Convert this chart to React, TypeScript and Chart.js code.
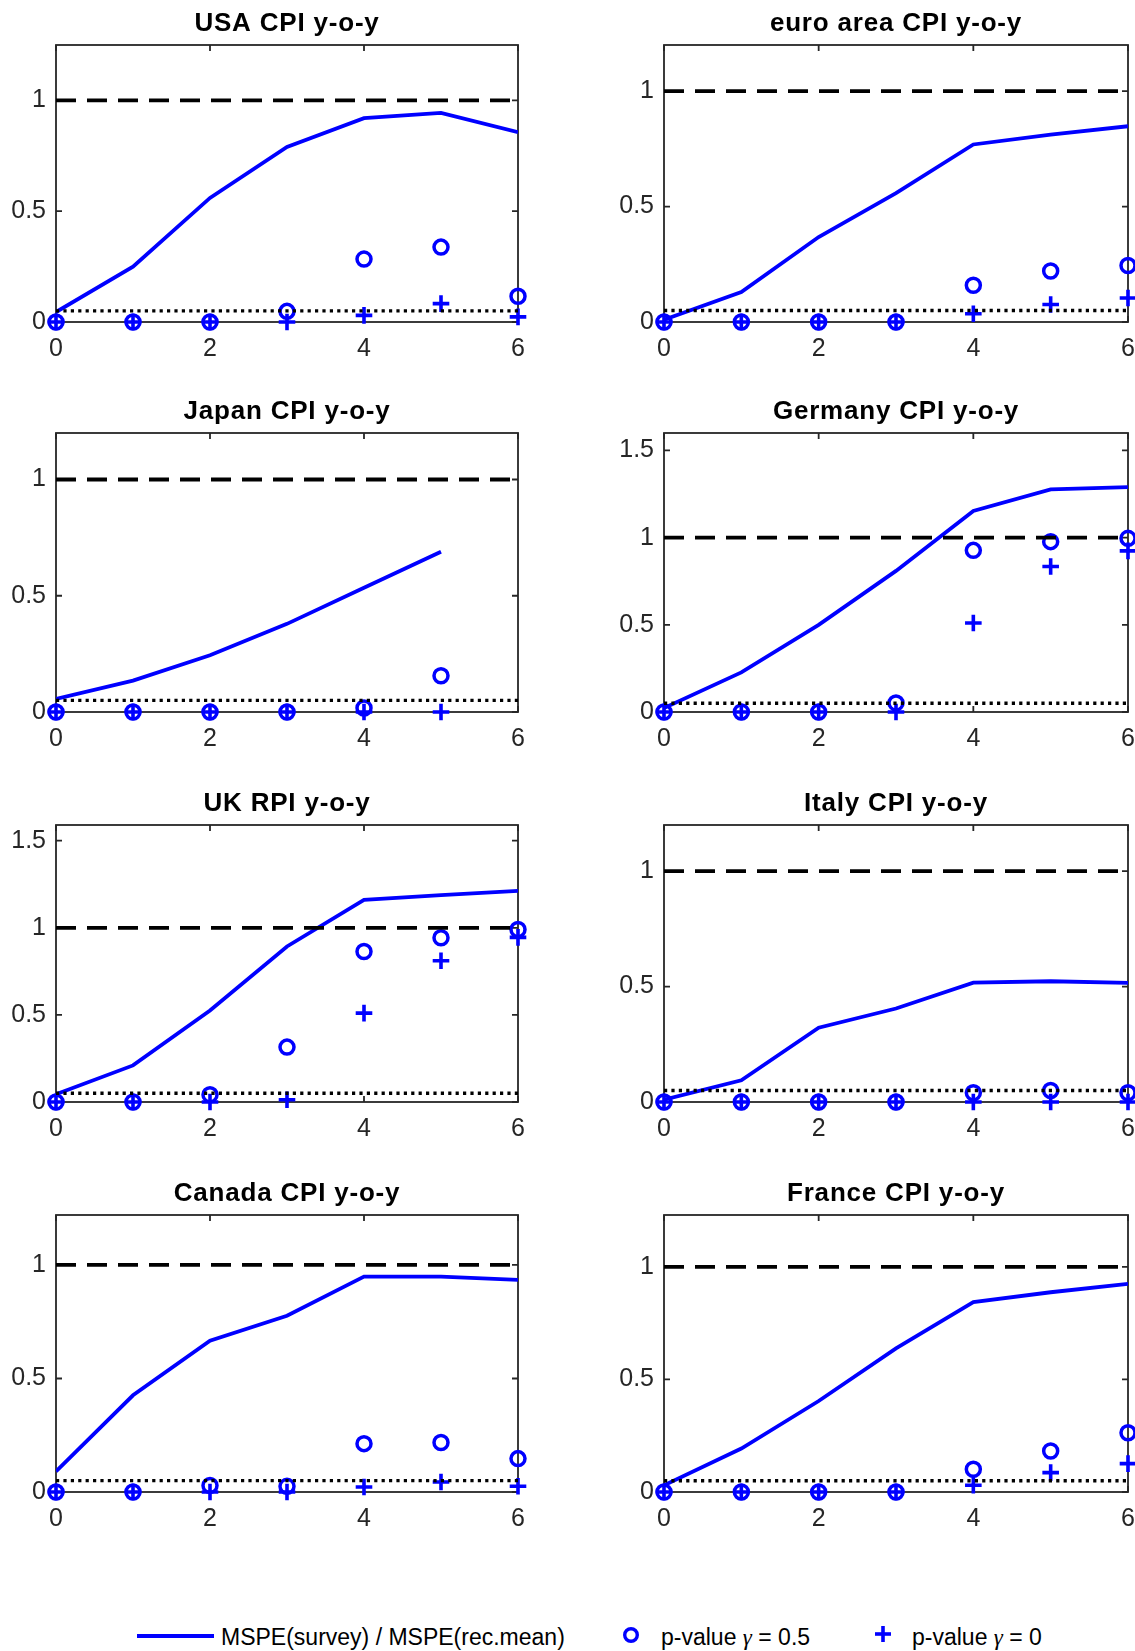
import React, { useEffect, useRef } from "react";
import { Chart, registerables } from "chart.js";

Chart.register(...registerables);

// ---------- data ----------
const horizons = [0, 1, 2, 3, 4, 5, 6];
const xTickValues = [0, 2, 4, 6];
const refLevel = 1;
const pThreshold = 0.05;

const titles = [
  "USA CPI y-o-y",
  "euro area CPI y-o-y",
  "Japan CPI y-o-y",
  "Germany CPI y-o-y",
  "UK RPI y-o-y",
  "Italy CPI y-o-y",
  "Canada CPI y-o-y",
  "France CPI y-o-y",
];
const yMaxValues = [1.25, 1.2, 1.2, 1.6, 1.59, 1.2, 1.22, 1.23];
const yTicksSmall = [0, 0.5, 1];
const yTicksLarge = [0, 0.5, 1, 1.5];

const usaRatio = [0.045, 0.25, 0.56, 0.79, 0.92, 0.944, 0.857];
const usaP05 = [0, 0, 0, 0.048, 0.284, 0.338, 0.116];
const usaP0 = [0, 0, 0, 0, 0.03, 0.083, 0.023];

const euroRatio = [0.01, 0.13, 0.368, 0.558, 0.769, 0.812, 0.848];
const euroP05 = [0, 0, 0, 0, 0.159, 0.221, 0.245];
const euroP0 = [0, 0, 0, 0, 0.036, 0.076, 0.104];

const japanRatio = [0.056, 0.135, 0.244, 0.379, 0.534, 0.689, null];
const japanP05 = [0, 0, 0, 0, 0.017, 0.156, null];
const japanP0 = [0, 0, 0, 0, 0, 0, null];

const germanyRatio = [0.023, 0.227, 0.5, 0.809, 1.153, 1.277, 1.29];
const germanyP05 = [0, 0, 0, 0.052, 0.927, 0.977, 0.996];
const germanyP0 = [0, 0, 0, 0, 0.51, 0.834, 0.924];

const ukRatio = [0.044, 0.21, 0.525, 0.893, 1.16, 1.187, 1.212];
const ukP05 = [0, 0, 0.042, 0.315, 0.864, 0.943, 0.99];
const ukP0 = [0, 0, 0, 0.013, 0.51, 0.811, 0.945];

const italyRatio = [0.01, 0.094, 0.322, 0.405, 0.517, 0.523, 0.516];
const italyP05 = [0, 0, 0, 0, 0.04, 0.05, 0.04];
const italyP0 = [0, 0, 0, 0, 0, 0, 0];

const canadaRatio = [0.091, 0.426, 0.666, 0.776, 0.949, 0.949, 0.934];
const canadaP05 = [0, 0, 0.029, 0.025, 0.213, 0.218, 0.147];
const canadaP0 = [0, 0, 0, 0, 0.022, 0.044, 0.025];

const franceRatio = [0.03, 0.193, 0.404, 0.638, 0.843, 0.887, 0.924];
const franceP05 = [0, 0, 0, 0, 0.101, 0.182, 0.263];
const franceP0 = [0, 0, 0, 0, 0.03, 0.086, 0.126];

const ratioSeries = [usaRatio, euroRatio, japanRatio, germanyRatio, ukRatio, italyRatio, canadaRatio, franceRatio];
const p05Series = [usaP05, euroP05, japanP05, germanyP05, ukP05, italyP05, canadaP05, franceP05];
const p0Series = [usaP0, euroP0, japanP0, germanyP0, ukP0, italyP0, canadaP0, franceP0];

// ---------- layout ----------
const colLeft = [56, 664];
const colRight = [518, 1128];
const rowTop = [45, 433, 825, 1215];
const rowBottom = [322, 712, 1102, 1492];
const AXIS_W = 70;
const AXIS_H = 48;
const PAD_T = 45;
const PAD_R = 30;

const FONT = '"Liberation Sans", Arial, Helvetica, sans-serif';
const BLUE = "#0000ff";
const AXIS_COLOR = "#262626";

const toPoints = (vals: (number | null)[]) =>
  horizons
    .map((h, i) => ({ x: h, y: vals[i] }))
    .filter((p) => p.y !== null && p.y !== undefined);

const framePlugin = {
  id: "frame",
  beforeDatasetsDraw(chart: any) {
    const { ctx, chartArea: a, scales } = chart;
    ctx.save();
    ctx.strokeStyle = AXIS_COLOR;
    ctx.lineWidth = 1.8;
    ctx.strokeRect(a.left, a.top, a.right - a.left, a.bottom - a.top);
    const tl = 6;
    ctx.beginPath();
    for (const v of xTickValues) {
      const x = scales.x.getPixelForValue(v);
      ctx.moveTo(x, a.bottom);
      ctx.lineTo(x, a.bottom - tl);
      ctx.moveTo(x, a.top);
      ctx.lineTo(x, a.top + tl);
    }
    for (const t of scales.y.ticks) {
      const y = scales.y.getPixelForValue(t.value);
      ctx.moveTo(a.left, y);
      ctx.lineTo(a.left + tl, y);
      ctx.moveTo(a.right, y);
      ctx.lineTo(a.right - tl, y);
    }
    ctx.stroke();
    ctx.restore();
  },
  afterDraw(chart: any, _args: any, opts: any) {
    const { ctx, chartArea: a } = chart;
    ctx.save();
    ctx.fillStyle = "#000";
    ctx.font = `bold 26px ${FONT}`;
    try {
      (ctx as any).letterSpacing = "0.8px";
    } catch (e) {}
    ctx.textAlign = "center";
    ctx.textBaseline = "alphabetic";
    ctx.fillText(opts.title, (a.left + a.right) / 2, a.top - 14);
    ctx.restore();
  },
};

function Panel({ idx }: { idx: number }) {
  const ref = useRef<HTMLCanvasElement>(null);
  const col = idx % 2;
  const row = Math.floor(idx / 2);
  const L = colLeft[col];
  const R = colRight[col];
  const T = rowTop[row];
  const B = rowBottom[row];
  const W = R - L + AXIS_W + PAD_R;
  const H = B - T + PAD_T + AXIS_H;

  useEffect(() => {
    const yMax = yMaxValues[idx];
    const yTicks = yMax >= 1.5 ? yTicksLarge : yTicksSmall;
    const chart = new Chart(ref.current as HTMLCanvasElement, {
      type: "line",
      data: {
        datasets: [
          {
            label: "ref",
            data: [
              { x: horizons[0], y: refLevel },
              { x: horizons[horizons.length - 1], y: refLevel },
            ],
            borderColor: "#000",
            borderWidth: 3.8,
            borderDash: [20, 11],
            pointRadius: 0,
            order: 0,
          },
          {
            label: "thr",
            data: [
              { x: horizons[0], y: pThreshold },
              { x: horizons[horizons.length - 1], y: pThreshold },
            ],
            borderColor: "#000",
            borderWidth: 3.4,
            borderDash: [3.2, 4.2],
            pointRadius: 0,
            order: 1,
          },
          {
            label: "p-value gamma = 0",
            data: toPoints(p0Series[idx]),
            showLine: false,
            pointStyle: "cross",
            pointRadius: 8.3,
            pointBorderWidth: 3.6,
            pointBorderColor: BLUE,
            borderColor: BLUE,
            clip: false as any,
            order: 2,
          },
          {
            label: "p-value gamma = 0.5",
            data: toPoints(p05Series[idx]),
            showLine: false,
            pointStyle: "circle",
            pointRadius: 7,
            pointBorderWidth: 3.5,
            pointBorderColor: BLUE,
            pointBackgroundColor: "rgba(0,0,0,0)",
            borderColor: BLUE,
            clip: false as any,
            order: 3,
          },
          {
            label: "MSPE ratio",
            data: toPoints(ratioSeries[idx]),
            borderColor: BLUE,
            borderWidth: 3.8,
            pointRadius: 0,
            tension: 0,
            order: 4,
          },
        ],
      },
      options: {
        responsive: false,
        animation: false,
        events: [],
        layout: { padding: { left: 0, right: PAD_R, top: PAD_T, bottom: 0 } },
        plugins: {
          legend: { display: false },
          tooltip: { enabled: false },
          title: { display: false },
          frame: { title: titles[idx] },
        } as any,
        scales: {
          x: {
            type: "linear",
            min: 0,
            max: 6,
            afterBuildTicks: (s: any) => {
              s.ticks = xTickValues.map((v) => ({ value: v }));
            },
            afterFit: (s: any) => {
              s.height = AXIS_H;
            },
            ticks: {
              color: AXIS_COLOR,
              font: { family: FONT, size: 25 },
              padding: 12,
              maxRotation: 0,
              autoSkip: false,
              callback: (v: any) => String(v),
            },
            grid: { display: false, drawTicks: false },
            border: { display: false },
          },
          y: {
            type: "linear",
            min: 0,
            max: yMax,
            afterBuildTicks: (s: any) => {
              s.ticks = yTicks.map((v) => ({ value: v }));
            },
            afterFit: (s: any) => {
              s.width = AXIS_W;
            },
            ticks: {
              color: AXIS_COLOR,
              font: { family: FONT, size: 25 },
              padding: 10,
              autoSkip: false,
              callback: (v: any) => String(v),
            },
            grid: { display: false, drawTicks: false },
            border: { display: false },
          },
        },
      },
      plugins: [framePlugin as any],
    });
    return () => chart.destroy();
  }, [idx]);

  return (
    <canvas
      ref={ref}
      width={W}
      height={H}
      style={{ position: "absolute", left: L - AXIS_W, top: T - PAD_T, width: W, height: H }}
    />
  );
}

function Legend() {
  const textStyle: React.CSSProperties = {
    position: "absolute",
    top: 1625,
    fontFamily: FONT,
    fontSize: 23,
    lineHeight: "24px",
    color: "#000",
    whiteSpace: "nowrap",
  };
  const gamma = <span style={{ fontFamily: '"Liberation Serif", serif', fontStyle: "italic" }}>γ</span>;
  return (
    <>
      <div style={{ position: "absolute", left: 137, top: 1634, width: 77, height: 3.5, background: BLUE }} />
      <div style={{ ...textStyle, left: 221 }}>MSPE(survey) / MSPE(rec.mean)</div>
      <svg style={{ position: "absolute", left: 620, top: 1624 }} width={22} height={22}>
        <circle cx={11} cy={11} r={6.3} fill="none" stroke={BLUE} strokeWidth={3.4} />
      </svg>
      <div style={{ ...textStyle, left: 661 }}>p-value {gamma} = 0.5</div>
      <svg style={{ position: "absolute", left: 872, top: 1623 }} width={22} height={22}>
        <line x1={3} y1={11} x2={19} y2={11} stroke={BLUE} strokeWidth={3.6} />
        <line x1={11} y1={3} x2={11} y2={19} stroke={BLUE} strokeWidth={3.6} />
      </svg>
      <div style={{ ...textStyle, left: 912 }}>p-value {gamma} = 0</div>
    </>
  );
}

export default function App() {
  return (
    <div
      style={{
        position: "absolute",
        left: 0,
        top: 0,
        width: 1135,
        height: 1651,
        overflow: "hidden",
        background: "#fff",
      }}
    >
      {titles.map((_, i) => (
        <Panel key={i} idx={i} />
      ))}
      <Legend />
    </div>
  );
}
